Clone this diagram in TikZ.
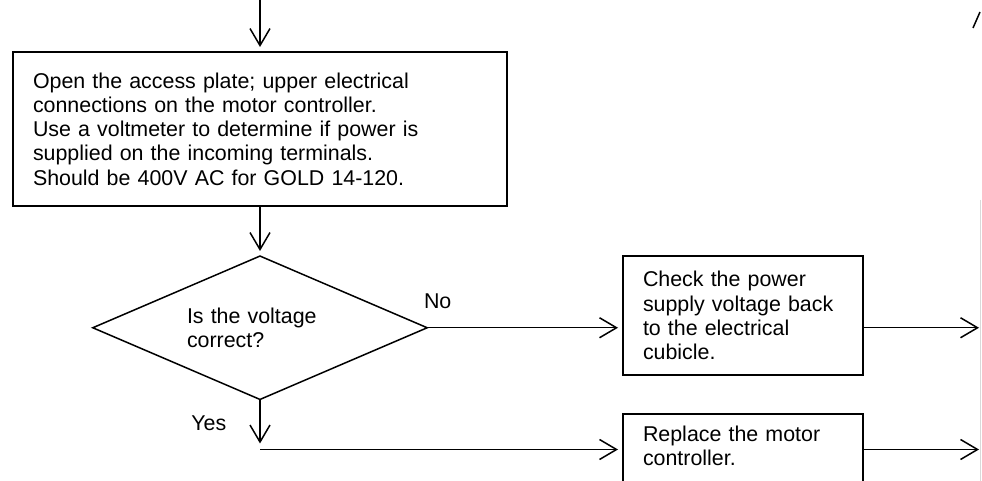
\documentclass[tikz,border=0pt]{standalone}
\usepackage{fontspec}
\setmainfont{Liberation Sans}
\usepackage{tikz}
\usetikzlibrary{
	shapes.geometric,
	arrows.meta,
	positioning
}

\begin{document}
\begin{tikzpicture}[
    x=0.5pt, y=-0.5pt,
    line width=0.75pt,
    font=\fontsize{10.7pt}{12.1pt}\selectfont,
    stepbox/.style={rectangle, draw, line width=1pt, align=left, inner xsep=10pt, inner ysep=6pt},
    decision/.style={diamond, draw, align=left, aspect=2.3, inner sep=0pt, minimum width=167.5pt, minimum height=72pt, text width=73pt},
    lbl/.style={inner sep=0pt},
    arrow/.style={-{Straight Barb[length=8.5pt, width=10pt]}, shorten >=2pt}
]
\useasboundingbox (0,0) rectangle (982,481);
\clip (0,0) rectangle (982,481);

\node[stepbox, text width=227pt, minimum height=77pt] (open) at (260,129) {Open the access plate; upper electrical\\connections on the motor controller.\\Use a voltmeter to determine if power is\\supplied on the incoming terminals.\\Should be 400V AC for GOLD 14-120.};
\node[decision, below=24pt of open] (volt) {Is the voltage\\correct?};
\node[stepbox, text width=100pt, minimum height=59.5pt, below right=24pt and 57pt of open] (check) {Check the power\\supply voltage back\\to the electrical\\cubicle.};
\node[stepbox, text width=100pt, text depth=30pt, below=18.5pt of check] (replace) {Replace the motor\\controller.};

\coordinate[above=26pt of open] (entry);
\coordinate[below=23.5pt of volt] (yesend);
\coordinate[below=24.5pt of volt] (yesturn);
\coordinate[right=59.5pt of check.east] (rim);

\draw[arrow] (entry) -- (open);
\draw[arrow] (open) -- (volt);
\draw[arrow] (volt.east) -- (volt.east -| check.west);
\draw[arrow] (volt.east -| check.east) -- (volt.east -| rim);
\draw[arrow] (volt) -- (yesend);
\draw[arrow] (yesturn) -- (yesturn -| replace.west);
\draw[arrow] (yesturn -| replace.east) -- (yesturn -| rim);

\node[lbl, above right=9pt and -2.5pt of volt.east] (no) {No};
\node[lbl, below left=7.5pt and 16.5pt of volt.south] (yes) {Yes};

% page edge bits
\draw[gray!30, line width=0.5pt] (980,200) -- (980,481);
\draw (973,28) -- (980,12);
\end{tikzpicture}
\end{document}
